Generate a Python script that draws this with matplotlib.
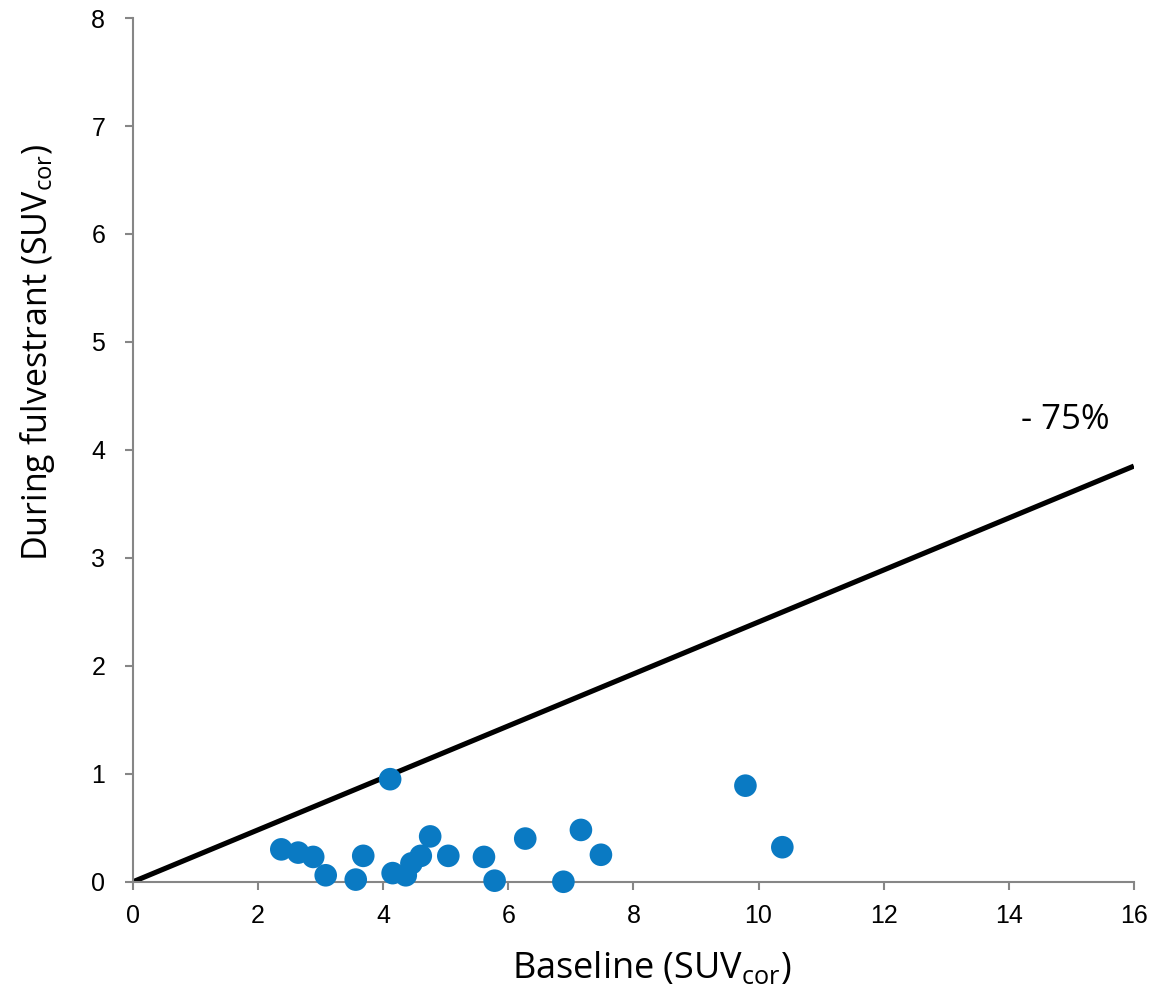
import matplotlib
matplotlib.use('Agg')
import matplotlib.pyplot as plt

# Baseline vs during-fulvestrant SUVcor values
baseline = [2.37, 2.64, 2.88, 3.08, 3.56, 3.68, 4.11, 4.15, 4.36, 4.45, 4.60,
            4.75, 5.04, 5.61, 5.78, 6.27, 6.88, 7.16, 7.48, 9.79, 10.38]
during = [0.30, 0.27, 0.23, 0.06, 0.02, 0.24, 0.95, 0.08, 0.06, 0.17, 0.24,
          0.42, 0.24, 0.23, 0.01, 0.40, 0.00, 0.48, 0.25, 0.89, 0.32]

# reference line (-75%)
line_x = [0, 16]
line_y = [0, 3.85]

x_ticks = [0, 2, 4, 6, 8, 10, 12, 14, 16]
y_ticks = [0, 1, 2, 3, 4, 5, 6, 7, 8]

plt.rcParams['mathtext.fontset'] = 'custom'
plt.rcParams['mathtext.rm'] = 'Open Sans'

fig = plt.figure(figsize=(11.57, 10.02), dpi=100)
ax = fig.add_axes([0.115, 0.12, 0.865, 0.862])

axis_gray = '#868686'
ax.plot(line_x, line_y, color='black', lw=3.7, solid_capstyle='butt', zorder=2)
ax.scatter(baseline, during, s=265, color='#0A7AC3', edgecolors='none', zorder=3, clip_on=False)

ax.text(14.9, 4.28, '- 75%', fontsize=25, family='Open Sans', ha='center', va='center')

ax.set_xlim(0, 16)
ax.set_ylim(0, 8)
ax.set_xticks(x_ticks)
ax.set_yticks(y_ticks)
ax.spines['top'].set_visible(False)
ax.spines['right'].set_visible(False)
for side in ['left', 'bottom']:
    ax.spines[side].set_color(axis_gray)
    ax.spines[side].set_linewidth(1.5)
ax.tick_params(direction='out', length=6, width=1.5, color=axis_gray,
               labelsize=18)
ax.tick_params(axis='y', pad=14)
ax.tick_params(axis='x', pad=10)
for lbl in ax.get_xticklabels() + ax.get_yticklabels():
    lbl.set_family('Liberation Sans')

fig.text(0.563, 0.033, r'Baseline (SUV$_{\mathrm{cor}}$)', fontsize=26,
         family='Open Sans', ha='center', va='center')
fig.text(0.032, 0.648, r'During fulvestrant (SUV$_{\mathrm{cor}}$)', fontsize=24.5,
         family='Open Sans', ha='center', va='center', rotation=90)

fig.savefig('out.png', dpi=100)
